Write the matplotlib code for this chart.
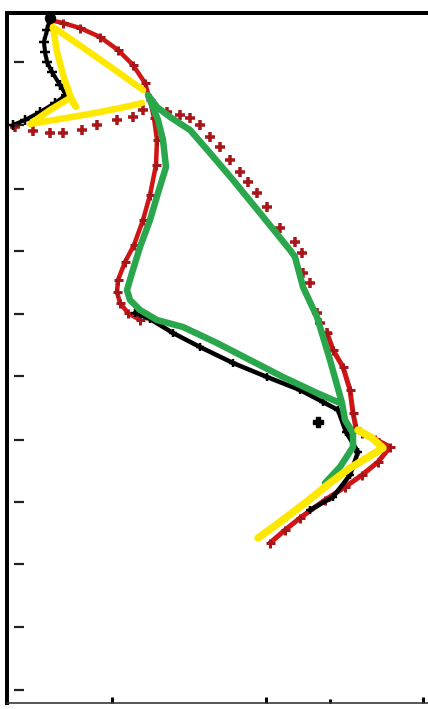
import numpy as np
import matplotlib
matplotlib.use("Agg")
import matplotlib.pyplot as plt
import matplotlib.transforms as mtransforms

# Trajectories in plot units (x to the right, y downward)
red_solid_x = [50, 63, 80, 100, 118, 133, 145, 150, 154, 157, 156, 150, 143, 134, 125, 118, 117, 120, 128, 140]
red_solid_y = [20, 23, 28, 37, 50, 65, 83, 100, 118, 140, 165, 195, 220, 245, 262, 280, 292, 303, 313, 320]

red_dots_x = [15, 33, 50, 63, 82, 97, 117, 133, 143, 167, 180, 190, 200, 210, 220, 230, 240, 248, 257,
              267, 280, 295, 302, 303, 310, 317, 320, 327]
red_dots_y = [127, 131, 133, 133, 130, 125, 120, 117, 110, 112, 115, 118, 125, 137, 147, 160, 172, 182, 193,
              207, 228, 242, 253, 273, 283, 313, 323, 333]

red_tail_x = [327, 333, 343, 350, 353, 356, 362, 375, 390, 378, 362, 345, 325, 300, 285, 270]
red_tail_y = [333, 350, 367, 390, 413, 428, 433, 439, 447, 462, 475, 487, 500, 518, 530, 543]

black_top_x = [50, 47, 44, 45, 47, 52, 60, 66, 55, 40, 25, 13]
black_top_y = [18, 30, 42, 52, 62, 72, 85, 95, 103, 112, 120, 125]

black_low_x = [135, 150, 173, 200, 233, 267, 300, 323, 338, 346, 358, 350, 333, 310]
black_low_y = [313, 319, 333, 347, 363, 377, 390, 402, 410, 432, 452, 475, 497, 510]

black_point_x = [318]
black_point_y = [422]

green_x = [325, 340, 353, 353, 345, 342, 330, 317, 303, 295, 290, 260, 233, 210, 190, 170, 157, 148,
           150, 158, 163, 166, 158, 150, 140, 132, 127, 130, 140, 157, 183, 217, 250, 283, 317, 340]
green_y = [483, 467, 447, 433, 420, 403, 360, 317, 287, 257, 250, 213, 180, 153, 130, 117, 107, 95,
           100, 120, 140, 167, 193, 220, 247, 273, 290, 300, 310, 320, 327, 343, 360, 377, 393, 403]

yellow_top_x = [143, 115, 85, 53, 57, 64, 70, 76, 70, 50, 30, 60, 95, 125, 142]
yellow_top_y = [90, 70, 49, 27, 52, 78, 95, 107, 98, 110, 124, 119, 113, 107, 103]

yellow_tail_x = [358, 372, 383, 370, 350, 330, 305, 280, 258]
yellow_tail_y = [430, 438, 448, 456, 468, 483, 503, 522, 538]

y_tick_values = [62, 125, 189, 251, 314, 376, 440, 502, 564, 627, 690]
x_tick_values = [112, 266, 330, 423]

RED = "#d01515"
DARK_RED = "#a8161a"
GREEN = "#2aa64c"
YELLOW = "#ffe800"

W, H = 428, 709
fig = plt.figure(figsize=(W / 100, H / 100), dpi=100)
left, right, top, bottom = 7, 428, 13, 703
ax = fig.add_axes([left / W, 1 - bottom / H, (right - left) / W, (bottom - top) / H])
ax.set_xlim(left, right)
ax.set_ylim(bottom, top)

px = 72 / 100  # points per pixel

# red trajectory
ax.plot(red_solid_x, red_solid_y, color=RED, lw=4.5 * px, marker="+", ms=9 * px, mew=3 * px,
        mec=DARK_RED, zorder=2, solid_capstyle="round", solid_joinstyle="round")
ax.plot(red_dots_x, red_dots_y, linestyle="none", marker="+", ms=10 * px, mew=3.5 * px,
        color=DARK_RED, zorder=2)
ax.plot(red_tail_x, red_tail_y, color=RED, lw=5 * px, marker="+", ms=9 * px, mew=3 * px,
        mec=DARK_RED, zorder=2, solid_capstyle="round", solid_joinstyle="round")

# black trajectory
ax.plot(black_top_x, black_top_y, color="black", lw=4 * px, marker="+", ms=10 * px, mew=2.5 * px,
        zorder=3, solid_capstyle="round", solid_joinstyle="round")
ax.plot(black_low_x, black_low_y, color="black", lw=4.5 * px, marker="+", ms=8 * px, mew=2.5 * px,
        zorder=3, solid_capstyle="round", solid_joinstyle="round")
ax.plot([black_top_x[0]], [black_top_y[0]], "o", color="black", ms=10 * px, zorder=3)
ax.plot(black_point_x, black_point_y, linestyle="none", marker="P", ms=10 * px, color="black", zorder=3)

# green trajectory
ax.plot(green_x, green_y, color=GREEN, lw=6.5 * px, zorder=4, solid_capstyle="round",
        solid_joinstyle="round")

# yellow trajectory
ax.plot(yellow_top_x, yellow_top_y, color=YELLOW, lw=6.5 * px, zorder=5, solid_capstyle="round",
        solid_joinstyle="round")
ax.plot(yellow_tail_x, yellow_tail_y, color=YELLOW, lw=7.5 * px, zorder=5, solid_capstyle="round",
        solid_joinstyle="round")

# frame
ax.spines["right"].set_visible(False)
ax.spines["top"].set_linewidth(4 * px)
ax.spines["left"].set_linewidth(4 * px)
ax.spines["bottom"].set_linewidth(1.6 * px)
ax.spines["bottom"].set_color("#333333")

# y tick dashes, set slightly inside the left edge
ax.set_yticks([])
trans = mtransforms.blended_transform_factory(ax.transAxes, ax.transData)
ax.plot([12 / (right - left)] * len(y_tick_values), y_tick_values, linestyle="none", marker="_",
        ms=10 * px, mew=2.2 * px, color="#222222", transform=trans, clip_on=False, zorder=6)

# x ticks
ax.set_xticks(x_tick_values)
ax.set_xticklabels([])
ax.tick_params(axis="x", direction="in", length=6 * px, width=3 * px, color="black")
ax.xaxis.get_major_ticks()[2].tick1line.set_color("#6a1010")
ax.xaxis.get_major_ticks()[2].tick1line.set_markersize(4 * px)

fig.savefig("out.png", dpi=100, facecolor="white")
